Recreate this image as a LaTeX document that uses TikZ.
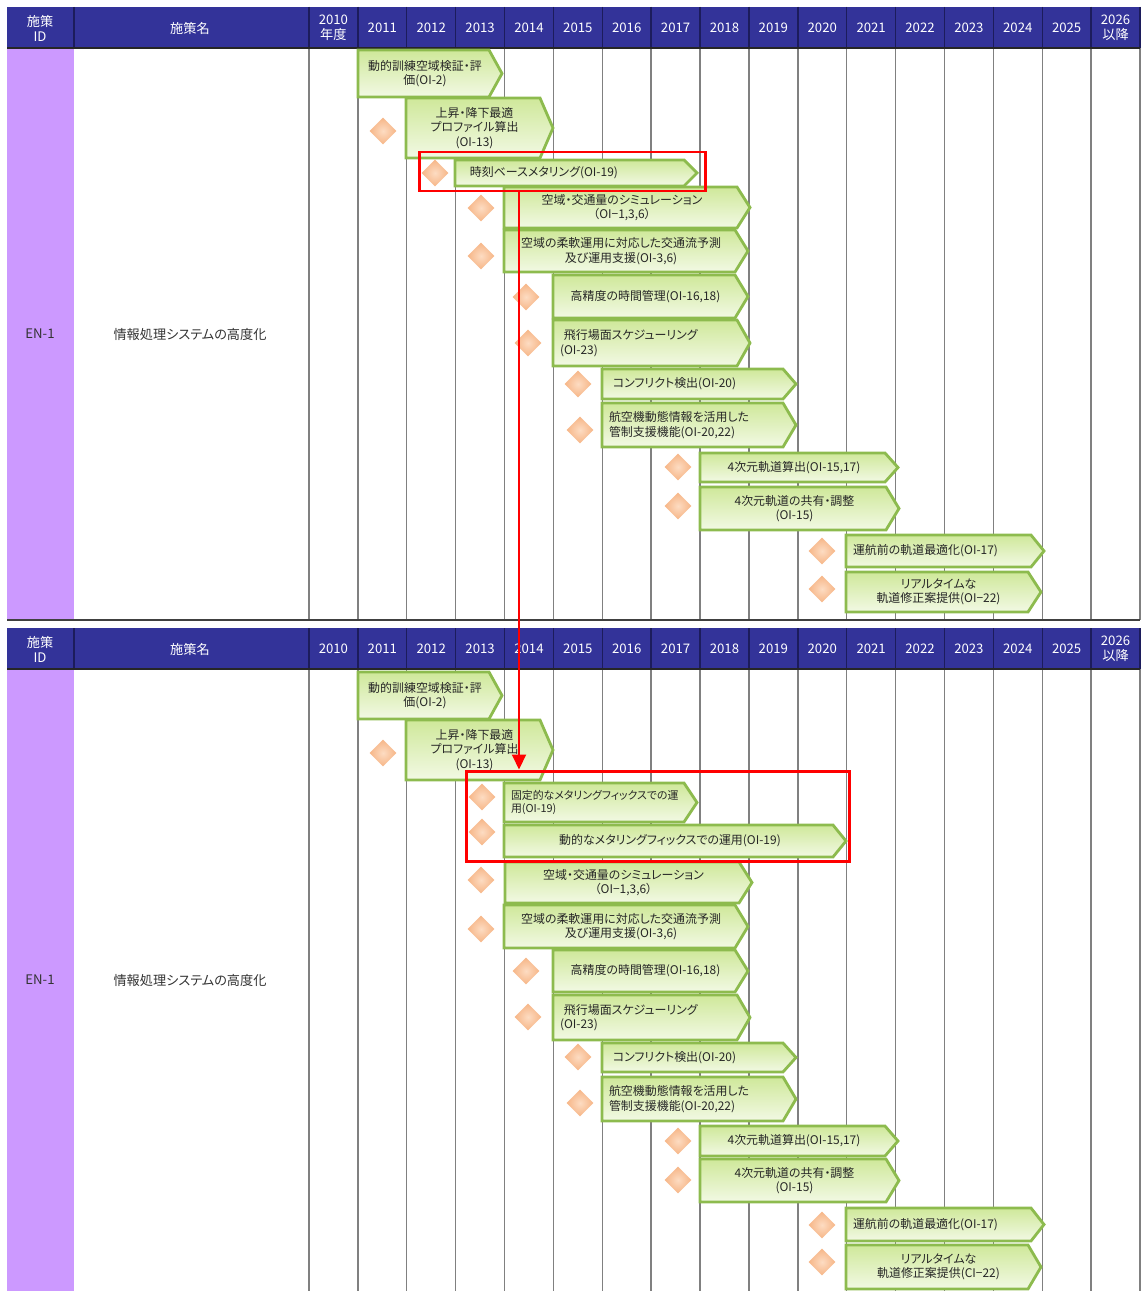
\documentclass[tikz,border=0pt]{standalone}
\usepackage{fontspec}
\setmainfont[RawFeature=+palt]{Noto Sans CJK JP}
\usetikzlibrary{positioning,fit,shapes.geometric,arrows.meta}

\definecolor{hdrblue}{HTML}{333399}
\definecolor{hdrline}{HTML}{1C1C5C}
\definecolor{idpurple}{HTML}{CC99FF}
\definecolor{gridgray}{HTML}{808080}
\definecolor{bartop}{HTML}{CFE89A}
\definecolor{barbot}{HTML}{F2F9E4}
\definecolor{barline}{HTML}{8DBB4E}
\definecolor{diamin}{HTML}{FDDCC2}
\definecolor{diamout}{HTML}{F6B586}
\definecolor{marker}{HTML}{FF0000}

\tikzset{
  hdr/.style={text=white, font=\fontsize{7.5}{8.5}\selectfont, align=center, inner sep=0pt},
  cell/.style={text=black!80, font=\fontsize{7.5}{9}\selectfont, inner sep=0pt},
  gridline/.style={draw=gridgray, line width=0.8pt},
  barbody/.style={top color=bartop, bottom color=barbot, draw=barline, line width=1.6pt},
  bartext/.style={text=black!85, font=\fontsize{6.8}{8.2}\selectfont, inner sep=0pt, align=center},
  lefttext/.style={align=left},
  diam/.style={diamond, minimum size=5.4mm, inner sep=0pt, shading=radial, inner color=diamin, outer color=diamout},
  redbox/.style={draw=marker, line width=1.7pt, inner sep=0pt},
  redarrow/.style={draw=marker, line width=1.1pt, -{Triangle[length=3mm,width=2.8mm]}},
}

% bar: [text options] name, x1, y1, x2 (tip), y2, text
\newcommand{\gbar}[7][]{%
  \draw[barbody] (#3,#4) -- ({#5-13},#4) -- (#5,{(#4+#6)/2}) -- ({#5-13},#6) -- (#3,#6) -- cycle;
  \pgfmathsetmacro\tw{(#5-#3-24)*0.2}
  \node[bartext, text width=\tw mm, #1] (#2) at ({(#3+#5-10)/2},{(#4+#6)/2}) {#7};
}

\begin{document}
\begin{tikzpicture}[x=0.2mm, y=-0.2mm]
\useasboundingbox (0,0) rectangle (1140,1291);

% tables
\foreach \t/\ty/\by in {a/7/620, b/628/1291}{
  \fill[idpurple] (7,\ty) rectangle (74,\by);
  \foreach \k in {0,...,17}
    \draw[gridline] ({309+48.88*\k},\ty) -- ({309+48.88*\k},\by);
  \fill[hdrblue] (7,\ty) rectangle (1140,{\ty+41});
  \foreach \k in {0,...,17}
    \draw[hdrline, line width=0.8pt] ({309+48.88*\k},\ty) -- ({309+48.88*\k},{\ty+41});
  \draw[hdrline, line width=0.8pt] (74,\ty) -- (74,{\ty+41});
  \draw[black!85, line width=1.2pt] (7,{\ty+41}) -- (1140,{\ty+41});
  \node[hdr] (\t id) at (40,{\ty+21}) {施策\\ID};
  \node[hdr] (\t name) at (190,{\ty+21}) {施策名};
  \foreach \k [evaluate=\k as \yr using int(2010+\k)] in {1,...,15}
    \node[hdr] (\t\yr) at ({309+48.88*\k+24.44},{\ty+21}) {\yr};
  \node[hdr] (\t2026) at (1115.5,{\ty+21}) {2026\\以降};
  \node[cell] (\t en) at (40,{(\ty+41+\by)/2}) {EN-1};
  \node[cell] (\t title) at (190,{(\ty+41+\by)/2}) {情報処理システムの高度化};
}
\node[hdr] (a2010) at (333.4,28) {2010\\年度};
\node[hdr] (b2010) at (333.4,649) {2010};
\draw[black!75, line width=1pt] (7,620) -- (1140,620);

% milestones
\foreach \x/\y [count=\i] in {383/131, 435/173, 481/208, 481/256, 526/297, 528/343,
    578/384, 580/430, 678/467, 678/506, 822/551, 822/589}
  \node[diam] (da\i) at (\x,\y) {};
\foreach \x/\y [count=\i] in {383/753, 482/797, 482/832, 481/880, 481/929, 526/971, 528/1017,
    578/1057, 580/1103, 678/1141, 678/1180, 822/1225, 822/1262}
  \node[diam] (db\i) at (\x,\y) {};

% upper plan
\gbar{ta1}{358}{50}{502}{97}{動的訓練空域検証・評\\価(OI-2)}
\gbar{ta2}{406}{98}{553}{158}{上昇・降下最適\\プロファイル算出\\(OI-13)}
\gbar[lefttext]{ta3}{455}{160}{697}{186}{\ \ 時刻ベースメタリング(OI-19)}
\gbar{ta4}{504}{187}{750}{228}{空域・交通量のシミュレーション\\（OI−1,3,6）}
\gbar{ta5}{504}{230}{748}{272}{空域の柔軟運用に対応した交通流予測\\及び運用支援(OI-3,6)}
\gbar{ta6}{553}{275}{748}{318}{高精度の時間管理(OI-16,18)}
\gbar[lefttext]{ta7}{553}{320}{750}{366}{\ 飛行場面スケジューリング\\(OI-23)}
\gbar[lefttext]{ta8}{602}{369}{796}{399}{\ コンフリクト検出(OI-20)}
\gbar[lefttext]{ta9}{602}{403}{796}{447}{航空機動態情報を活用した\\管制支援機能(OI-20,22)}
\gbar{ta10}{700}{453}{898}{482}{4次元軌道算出(OI-15,17)}
\gbar{ta11}{700}{487}{899}{530}{4次元軌道の共有・調整\\(OI-15)}
\gbar[lefttext]{ta12}{846}{535}{1044}{567}{運航前の軌道最適化(OI-17)}
\gbar{ta13}{846}{572}{1041}{612}{リアルタイムな\\軌道修正案提供(OI−22)}

% lower plan
\gbar{tb1}{358}{672}{502}{719}{動的訓練空域検証・評\\価(OI-2)}
\gbar{tb2}{406}{720}{553}{780}{上昇・降下最適\\プロファイル算出\\(OI-13)}
\gbar[lefttext, font=\fontsize{6.2}{7.8}\selectfont]{tb3}{504}{783}{697}{822}{固定的なメタリングフィックスでの運\\用(OI-19)}
\gbar{tb4}{504}{825}{846}{857}{動的なメタリングフィックスでの運用(OI-19)}
\gbar{tb5}{505}{862}{752}{903}{空域・交通量のシミュレーション\\（OI−1,3,6）}
\gbar{tb6}{504}{905}{748}{948}{空域の柔軟運用に対応した交通流予測\\及び運用支援(OI-3,6)}
\gbar{tb7}{553}{950}{748}{992}{高精度の時間管理(OI-16,18)}
\gbar[lefttext]{tb8}{553}{995}{750}{1040}{\ 飛行場面スケジューリング\\(OI-23)}
\gbar[lefttext]{tb9}{602}{1043}{796}{1072}{\ コンフリクト検出(OI-20)}
\gbar[lefttext]{tb10}{602}{1077}{796}{1121}{航空機動態情報を活用した\\管制支援機能(OI-20,22)}
\gbar{tb11}{700}{1126}{898}{1156}{4次元軌道算出(OI-15,17)}
\gbar{tb12}{700}{1159}{899}{1202}{4次元軌道の共有・調整\\(OI-15)}
\gbar[lefttext]{tb13}{846}{1208}{1044}{1241}{運航前の軌道最適化(OI-17)}
\gbar{tb14}{846}{1245}{1041}{1289}{リアルタイムな\\軌道修正案提供(CI−22)}

% change marker
\node[redbox, fit={(419,152) (705,191)}] (hl1) {};
\node[redbox, fit={(466,771) (849,861)}] (hl2) {};
\coordinate (ax) at (519,0);
\draw[redarrow] (hl1.south -| ax) -- (hl2.north -| ax);
\end{tikzpicture}
\end{document}
